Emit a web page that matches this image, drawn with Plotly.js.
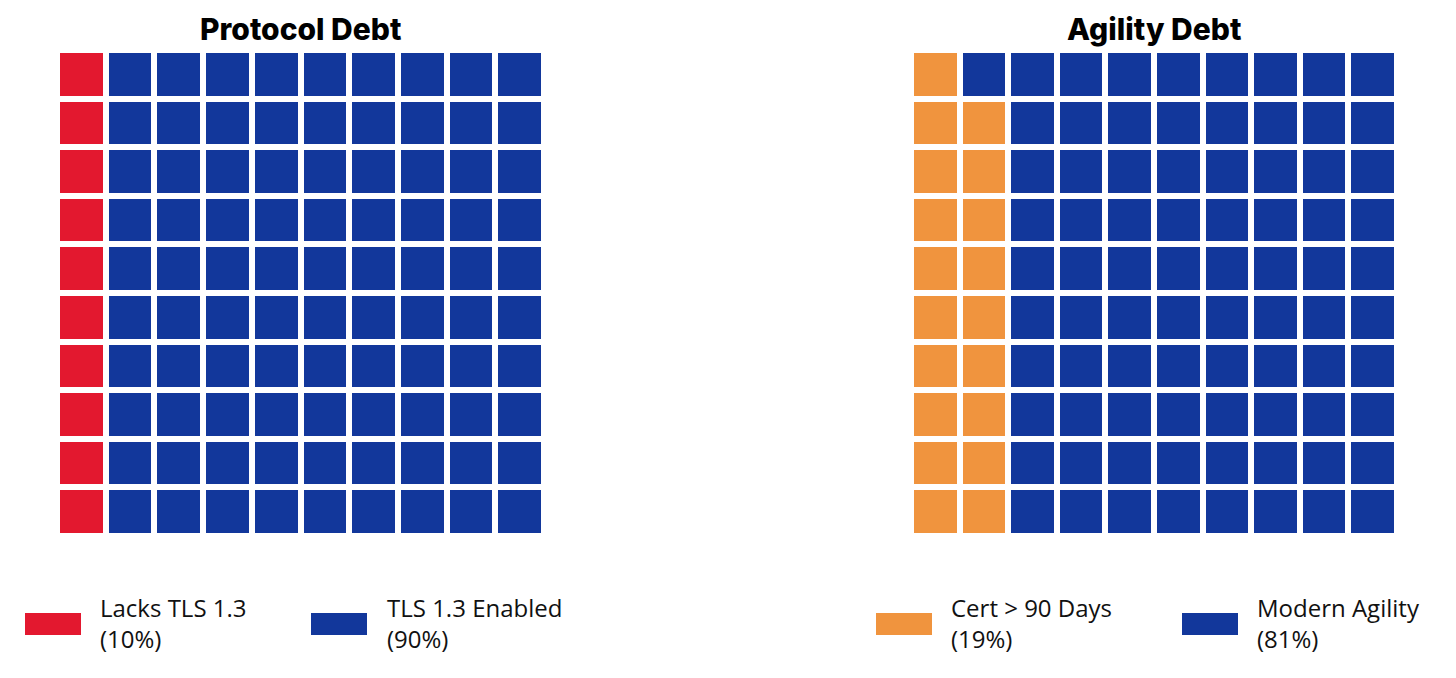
<!DOCTYPE html>
<html>
<head>
<meta charset="utf-8">
<script src="https://cdn.plot.ly/plotly-3.0.1.min.js"></script>
<style>
  html, body { margin: 0; padding: 0; background: #fff; }
  #chart { width: 1456px; height: 678px; }
</style>
</head>
<body>
<div id="chart"></div>
<script>
// Waffle charts: protocol debt vs agility debt

var titles = ['Protocol Debt', 'Agility Debt'];
var protocolLabels = ['Lacks TLS 1.3', 'TLS 1.3 Enabled'];
var protocolCounts = [10, 90];
var agilityLabels = ['Cert > 90 Days', 'Modern Agility'];
var agilityCounts = [19, 81];
var protocolColors = ['#e3182f', '#12379b'];
var agilityColors = ['#f0943e', '#12379b'];

var cols = 10;
var rows = 10;

// fill the grid column by column, bottom row first
function waffle_z(counts) {
  var z = [];
  for (let r = 0; r < rows; r++) {
    z.push(new Array(cols).fill(counts.length - 1));
  }
  var cat = 0;
  var left = counts[0];
  for (let c = 0; c < cols; c++) {
    for (let r = 0; r < rows; r++) {
      while (left <= 0 && cat < counts.length - 1) {
        cat++;
        left = counts[cat];
      }
      z[r][c] = cat;
      left--;
    }
  }
  return z;
}

function waffle_trace(counts, colors, xa, ya) {
  return {
    type: 'heatmap',
    z: waffle_z(counts),
    x: [...Array(cols).keys()],
    y: [...Array(rows).keys()],
    xaxis: xa,
    yaxis: ya,
    zmin: 0,
    zmax: 1,
    colorscale: [[0, colors[0]], [1, colors[1]]],
    showscale: false,
    xgap: 6,
    ygap: 6,
    hoverinfo: 'skip',
  };
}

var data = [
  waffle_trace(protocolCounts, protocolColors, 'x', 'y'),
  waffle_trace(agilityCounts, agilityColors, 'x2', 'y2'),
];

function ax(domain) {
  return {
    domain: domain,
    range: [-0.5, 9.5],
    showgrid: false,
    zeroline: false,
    showticklabels: false,
    ticks: '',
    fixedrange: true,
  };
}

var W = 1456, H = 678;
var yDom = [1 - 536 / H, 1 - 50 / H];

// legend rows built from the label / count arrays
var shapes = [];
var annotations = [];
var legendFont = {family: '"Open Sans", sans-serif', size: 24, color: '#111'};
function add_legend(labels, counts, colors, patchX, textX) {
  var total = counts.reduce((a, b) => a + b, 0);
  for (let i = 0; i < labels.length; i++) {
    shapes.push({
      type: 'rect', xref: 'paper', yref: 'paper',
      x0: patchX[i] / W, x1: (patchX[i] + 56) / W,
      y0: 1 - 635 / H, y1: 1 - 613 / H,
      fillcolor: colors[i], line: {width: 0},
    });
    annotations.push({
      xref: 'paper', yref: 'paper',
      x: (textX[i] - 3) / W, y: 1 - 623 / H,
      xanchor: 'left', yanchor: 'middle', align: 'left',
      showarrow: false,
      text: labels[i] + '<br>(' + Math.round(100 * counts[i] / total) + '%)',
      font: legendFont,
    });
  }
}
add_legend(protocolLabels, protocolCounts, protocolColors, [25, 311], [101, 388]);
add_legend(agilityLabels, agilityCounts, agilityColors, [876, 1182], [952, 1258]);

var titleX = [300, 1154];
for (let i = 0; i < titles.length; i++) {
  annotations.push({
    xref: 'paper', yref: 'paper',
    x: titleX[i] / W, y: 1 - 29 / H,
    xanchor: 'center', yanchor: 'middle',
    showarrow: false,
    text: titles[i],
    font: {family: 'Inter, sans-serif', size: 30, weight: 800, color: '#000'},
  });
}

var layout = {
  width: W,
  height: H,
  margin: {t: 0, r: 0, l: 0, b: 0},
  paper_bgcolor: '#fff',
  plot_bgcolor: '#fff',
  showlegend: false,
  xaxis: Object.assign(ax([57 / W, 544 / W]), {anchor: 'y'}),
  yaxis: Object.assign(ax(yDom), {anchor: 'x'}),
  xaxis2: Object.assign(ax([911 / W, 1397 / W]), {anchor: 'y2'}),
  yaxis2: Object.assign(ax(yDom), {anchor: 'x2'}),
  shapes: shapes,
  annotations: annotations,
};

Plotly.newPlot('chart', data, layout, {displayModeBar: false, staticPlot: true});
</script>
</body>
</html>
